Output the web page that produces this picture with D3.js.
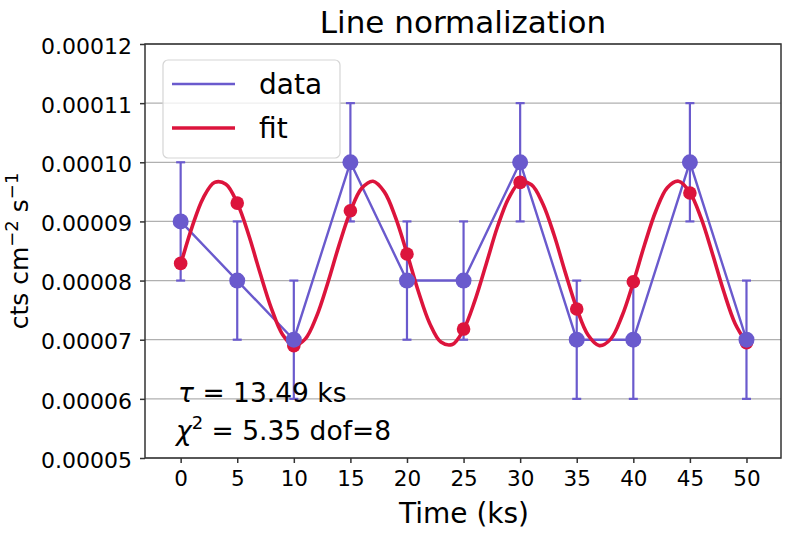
<!DOCTYPE html>
<html>
<head>
<meta charset="utf-8">
<script src="https://cdn.jsdelivr.net/npm/d3@7"></script>
<style>
  body { margin: 0; background: #fff; }
  text { font-family: "DejaVu Sans", sans-serif; fill: #000; }
</style>
</head>
<body>
<svg id="chart" width="793" height="533"></svg>
<script>
// observed points (time in ks, rate in cts cm^-2 s^-1)
var times = [0, 5, 10, 15, 20, 25, 30, 35, 40, 45, 50];
var rates = [9e-5, 8e-5, 7e-5, 10e-5, 8e-5, 8e-5, 10e-5, 7e-5, 7e-5, 10e-5, 7e-5];
var errors = [1e-5, 1e-5, 1e-5, 1e-5, 1e-5, 1e-5, 1e-5, 1e-5, 1e-5, 1e-5, 1e-5];

// fit evaluated at the data times
var fitRates = [8.29e-5, 9.31e-5, 6.90e-5, 9.18e-5, 8.45e-5, 7.18e-5, 9.66e-5, 7.52e-5, 7.98e-5, 9.48e-5, 6.95e-5];

// fit curve, every 1 ks
var curveTimes = [0, 1, 2, 3, 4, 5, 6, 7, 8, 9, 10, 11, 12, 13, 14, 15, 16, 17, 18, 19, 20,
    21, 22, 23, 24, 25, 26, 27, 28, 29, 30, 31, 32, 33, 34, 35, 36, 37, 38, 39, 40,
    41, 42, 43, 44, 45, 46, 47, 48, 49, 50];
var curveRates = [8.27, 8.90, 9.40, 9.66, 9.63, 9.31, 8.78, 8.14, 7.54, 7.09, 6.90,
    7.01, 7.39, 7.96, 8.60, 9.17, 9.56, 9.68, 9.50, 9.06, 8.46,
    7.82, 7.28, 6.96, 6.92, 7.17, 7.66, 8.28, 8.91, 9.40, 9.66,
    9.62, 9.30, 8.77, 8.13, 7.53, 7.08, 6.90, 7.01, 7.40, 7.97,
    8.61, 9.18, 9.57, 9.68, 9.49, 9.05, 8.45, 7.81, 7.27, 6.95].map(function (v) { return v * 1e-5; });

var xTicks = [0, 5, 10, 15, 20, 25, 30, 35, 40, 45, 50];
var yTicks = [5e-5, 6e-5, 7e-5, 8e-5, 9e-5, 10e-5, 11e-5, 12e-5];

var blue = "#6a5acd", red = "#dc143c";

var svg = d3.select("#chart");
var plotL = 145, plotR = 781, plotT = 44, plotB = 458;

var x = d3.scaleLinear().domain([-3.15, 53.05]).range([plotL, plotR]);
var y = d3.scaleLinear().domain([5e-5, 12e-5]).range([plotB, plotT]);

// grid
svg.append("g")
    .selectAll("line")
    .data(yTicks)
    .enter()
    .append("line")
    .attr("x1", plotL).attr("x2", plotR)
    .attr("y1", function (d) { return y(d); })
    .attr("y2", function (d) { return y(d); })
    .attr("stroke", "#b0b0b0")
    .attr("stroke-width", 1.3);

// axes
var xAxis = svg.append("g")
    .attr("transform", "translate(0," + plotB + ")")
    .call(d3.axisBottom(x).tickValues(xTicks).tickSize(5).tickPadding(7));
var yAxis = svg.append("g")
    .attr("transform", "translate(" + plotL + ",0)")
    .call(d3.axisLeft(y).tickValues(yTicks).tickFormat(d3.format(".5f")).tickSize(5).tickPadding(8));

[xAxis, yAxis].forEach(function (a) {
    a.select(".domain").remove();
    a.selectAll("line").attr("stroke", "#333").attr("stroke-width", 1.5);
    a.selectAll("text").attr("font-size", "21.5px").attr("fill", "#111");
});
yAxis.selectAll("text").attr("font-size", "22px").attr("dy", "0.42em");
xAxis.selectAll("text").attr("dy", "0.75em");

// frame
svg.append("rect")
    .attr("x", plotL).attr("y", plotT)
    .attr("width", plotR - plotL).attr("height", plotB - plotT)
    .attr("fill", "none")
    .attr("stroke", "#333")
    .attr("stroke-width", 1.5);

var idx = d3.range(times.length);

// error bars
var eb = svg.append("g").attr("stroke", blue).attr("stroke-width", 2.2);
eb.selectAll(".err")
    .data(idx).enter().append("line")
    .attr("x1", function (i) { return x(times[i]); })
    .attr("x2", function (i) { return x(times[i]); })
    .attr("y1", function (i) { return y(rates[i] - errors[i]); })
    .attr("y2", function (i) { return y(rates[i] + errors[i]); });
eb.selectAll(".capLo")
    .data(idx).enter().append("line")
    .attr("x1", function (i) { return x(times[i]) - 4.5; })
    .attr("x2", function (i) { return x(times[i]) + 4.5; })
    .attr("y1", function (i) { return y(rates[i] - errors[i]); })
    .attr("y2", function (i) { return y(rates[i] - errors[i]); });
eb.selectAll(".capHi")
    .data(idx).enter().append("line")
    .attr("x1", function (i) { return x(times[i]) - 4.5; })
    .attr("x2", function (i) { return x(times[i]) + 4.5; })
    .attr("y1", function (i) { return y(rates[i] + errors[i]); })
    .attr("y2", function (i) { return y(rates[i] + errors[i]); });

// data line
svg.append("path")
    .datum(idx)
    .attr("fill", "none")
    .attr("stroke", blue)
    .attr("stroke-width", 2.4)
    .attr("d", d3.line()
        .x(function (i) { return x(times[i]); })
        .y(function (i) { return y(rates[i]); }));

// fit curve
svg.append("path")
    .datum(d3.range(curveTimes.length))
    .attr("fill", "none")
    .attr("stroke", red)
    .attr("stroke-width", 3.6)
    .attr("d", d3.line()
        .curve(d3.curveCatmullRom)
        .x(function (i) { return x(curveTimes[i]); })
        .y(function (i) { return y(curveRates[i]); }));

// fit markers
svg.append("g").selectAll("circle")
    .data(idx).enter().append("circle")
    .attr("cx", function (i) { return x(times[i]); })
    .attr("cy", function (i) { return y(fitRates[i]); })
    .attr("r", 6.8)
    .attr("fill", red);

// data markers
svg.append("g").selectAll("circle")
    .data(idx).enter().append("circle")
    .attr("cx", function (i) { return x(times[i]); })
    .attr("cy", function (i) { return y(rates[i]); })
    .attr("r", 8)
    .attr("fill", blue);

// legend
var lg = svg.append("g");
lg.append("rect")
    .attr("x", 163).attr("y", 60)
    .attr("width", 177).attr("height", 98)
    .attr("rx", 5)
    .attr("fill", "#fff").attr("fill-opacity", 0.8)
    .attr("stroke", "#d5d5d5").attr("stroke-width", 1.2);
lg.append("line").attr("x1", 172).attr("x2", 235).attr("y1", 84).attr("y2", 84)
    .attr("stroke", blue).attr("stroke-width", 2.4);
lg.append("line").attr("x1", 172).attr("x2", 235).attr("y1", 128).attr("y2", 128)
    .attr("stroke", red).attr("stroke-width", 3.6);
lg.append("text").attr("x", 259).attr("y", 94).attr("font-size", "28px").text("data");
lg.append("text").attr("x", 259).attr("y", 138).attr("font-size", "28px").text("fit");

// title
svg.append("text")
    .attr("x", 463).attr("y", 33)
    .attr("text-anchor", "middle")
    .attr("font-size", "31px")
    .text("Line normalization");

// x label
svg.append("text")
    .attr("x", 464).attr("y", 523)
    .attr("text-anchor", "middle")
    .attr("font-size", "28px")
    .text("Time (ks)");

// y label
var yl = svg.append("text")
    .attr("transform", "translate(28,251) rotate(-90)")
    .attr("text-anchor", "middle")
    .attr("font-size", "25px");
yl.append("tspan").text("cts cm");
yl.append("tspan").attr("dy", -10).attr("font-size", "18px").text("\u22122");
yl.append("tspan").attr("dy", 10).text(" s");
yl.append("tspan").attr("dy", -10).attr("font-size", "18px").text("\u22121");

// annotations
var a1 = svg.append("text").attr("x", 178).attr("y", 402).attr("font-size", "26.5px");
a1.append("tspan").attr("font-style", "italic").text("\u03c4");
a1.append("tspan").text(" = 13.49 ks");

var a2 = svg.append("text").attr("x", 176).attr("y", 440).attr("font-size", "26.5px");
a2.append("tspan").attr("font-style", "italic").text("\u03c7");
a2.append("tspan").attr("dy", -11).attr("font-size", "18px").text("2");
a2.append("tspan").attr("dy", 11).text(" = 5.35 dof=8");
</script>
</body>
</html>
